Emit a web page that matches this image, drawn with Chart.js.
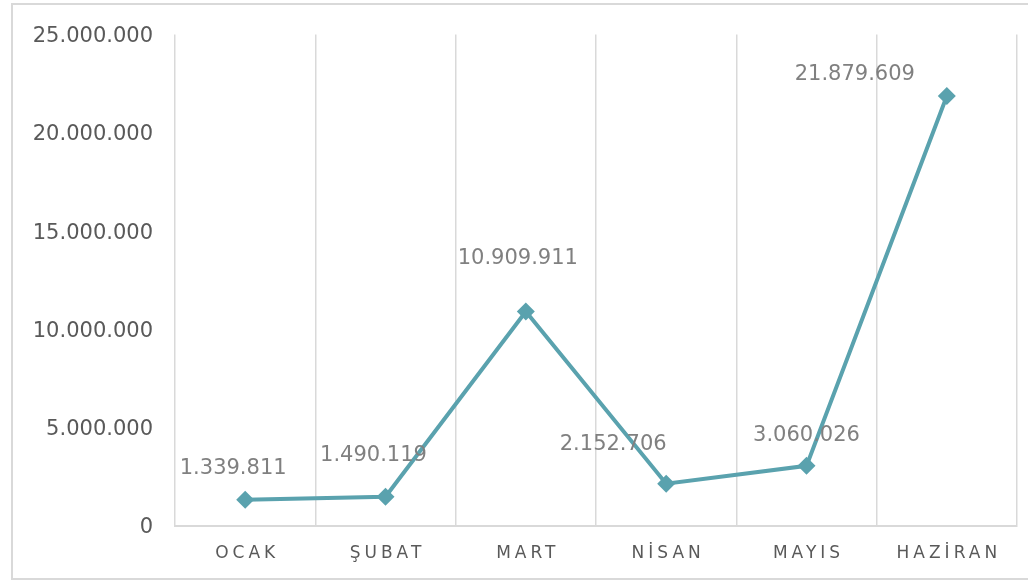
<!DOCTYPE html>
<html>
<head>
<meta charset="utf-8">
<script src="https://cdn.jsdelivr.net/npm/chart.js@4"></script>
<style>
html,body{margin:0;padding:0;background:#fff;}
#wrap{width:1028px;height:580px;position:relative;}
</style>
</head>
<body>
<div id="wrap"><canvas id="c" width="1028" height="580"></canvas></div>
<script>
const categories = ['OCAK', 'ŞUBAT', 'MART', 'NİSAN', 'MAYIS', 'HAZİRAN'];
const values = [1339811, 1490119, 10909911, 2152706, 3060026, 21879609];
const yTicks = [0, 5000000, 10000000, 15000000, 20000000, 25000000];

// label placement offsets (style only), relative to each point
const labelOffsets = [[-12, -31], [-12, -41], [-8, -53], [-53, -39], [0, -30], [-92, -21]];

function fmt(n) {
  return String(Math.round(n)).replace(/\B(?=(\d{3})+(?!\d))/g, '.');
}

const borderPlugin = {
  id: 'outerBorder',
  beforeDraw(chart) {
    const ctx = chart.ctx;
    ctx.save();
    ctx.fillStyle = '#ffffff';
    ctx.fillRect(0, 0, chart.width, chart.height);
    ctx.strokeStyle = '#d9d9d9';
    ctx.lineWidth = 2;
    ctx.strokeRect(12, 4, 1100, 575);
    ctx.restore();
  }
};

const xLabelPlugin = {
  id: 'xLabels',
  afterDraw(chart) {
    const ctx = chart.ctx;
    const xs = chart.scales.x;
    ctx.save();
    ctx.font = '17px "DejaVu Sans"';
    ctx.fillStyle = '#595959';
    ctx.textBaseline = 'alphabetic';
    ctx.textAlign = 'left';
    const sp = 4;
    ctx.letterSpacing = sp + 'px';
    categories.forEach((c, i) => {
      const x = xs.getPixelForValue(i);
      const w = ctx.measureText(c).width - sp;
      ctx.fillText(c, x - w / 2, 558);
    });
    ctx.restore();
  }
};

const dataLabelPlugin = {
  id: 'dataLabels',
  afterDatasetsDraw(chart) {
    const ctx = chart.ctx;
    const meta = chart.getDatasetMeta(0);
    ctx.save();
    ctx.font = '21px "DejaVu Sans"';
    ctx.fillStyle = '#808080';
    ctx.textAlign = 'center';
    ctx.textBaseline = 'middle';
    meta.data.forEach((pt, i) => {
      const o = labelOffsets[i];
      ctx.fillText(fmt(values[i]), pt.x + o[0], pt.y + o[1]);
    });
    ctx.restore();
  }
};

new Chart(document.getElementById('c'), {
  type: 'line',
  data: {
    labels: categories,
    datasets: [{
      data: values,
      borderColor: '#5AA2AE',
      backgroundColor: '#5AA2AE',
      borderWidth: 4,
      pointStyle: 'rectRot',
      pointRadius: 9,
      pointHoverRadius: 9,
      pointBackgroundColor: '#5AA2AE',
      pointBorderWidth: 0,
      tension: 0,
      fill: false
    }]
  },
  options: {
    responsive: false,
    animation: false,
    events: [],
    layout: { padding: { left: 0, top: 34, right: 11, bottom: 0 } },
    plugins: { legend: { display: false }, tooltip: { enabled: false } },
    scales: {
      x: {
        type: 'category',
        offset: true,
        grid: { display: true, offset: true, color: '#d9d9d9', lineWidth: 1.5, drawTicks: false },
        border: { display: true, color: '#d9d9d9', width: 2 },
        ticks: { display: false },
        afterFit(s) { s.height = 54; }
      },
      y: {
        min: 0,
        max: 25000000,
        afterBuildTicks(s) { s.ticks = yTicks.map(v => ({ value: v })); },
        grid: { display: false, drawTicks: false },
        border: { display: false },
        ticks: {
          padding: 22,
          labelOffset: 2,
          color: '#595959',
          font: { family: 'DejaVu Sans', size: 21 },
          callback: v => fmt(v)
        },
        afterFit(s) { s.width = 175; }
      }
    }
  },
  plugins: [borderPlugin, xLabelPlugin, dataLabelPlugin]
});
</script>
</body>
</html>
